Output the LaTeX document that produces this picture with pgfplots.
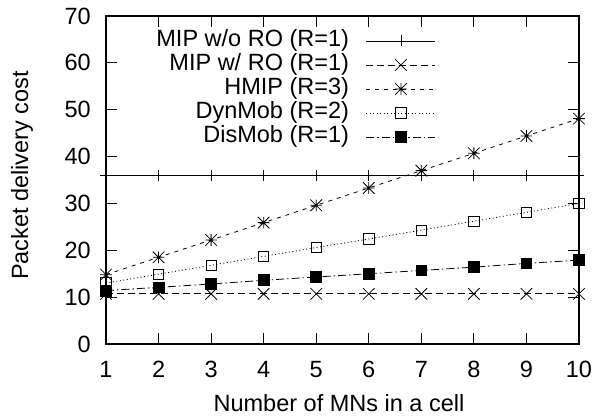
\documentclass[border=0pt]{standalone}
\usepackage{pgfplots}
\pgfplotsset{compat=1.18}
\usepackage{fontspec}
\setmainfont{Liberation Sans}
\pgfdeclareplotmark{starx}{%
 \pgfpathmoveto{\pgfqpoint{-\pgfplotmarksize}{0pt}}\pgfpathlineto{\pgfqpoint{\pgfplotmarksize}{0pt}}%
 \pgfpathmoveto{\pgfqpoint{0pt}{-\pgfplotmarksize}}\pgfpathlineto{\pgfqpoint{0pt}{\pgfplotmarksize}}%
 \pgfpathmoveto{\pgfqpoint{-\pgfplotmarksize}{-\pgfplotmarksize}}\pgfpathlineto{\pgfqpoint{\pgfplotmarksize}{\pgfplotmarksize}}%
 \pgfpathmoveto{\pgfqpoint{-\pgfplotmarksize}{\pgfplotmarksize}}\pgfpathlineto{\pgfqpoint{\pgfplotmarksize}{-\pgfplotmarksize}}%
 \pgfusepathqstroke}
\begin{document}
\begin{tikzpicture}[font=\fontsize{23.5bp}{28bp}\selectfont]
\useasboundingbox (-106bp,-74bp) rectangle (489bp,344bp);
\begin{axis}[
  at={(0,0)}, anchor=south west,
  scale only axis, width=473bp, height=328bp,
  xmin=1, xmax=10, ymin=0, ymax=70,
  xtick={1,2,...,10}, ytick={0,10,...,70},
  /pgf/number format/assume math mode=true,
  tick align=inside, major tick length=10.7bp,
  every tick/.style={black, line width=0.9bp},
  axis line style={line width=1.2bp},
  xticklabel style={anchor=north, inner sep=0pt, yshift=-17bp},
  yticklabel style={anchor=east, inner sep=0pt, xshift=-15bp},
  xlabel={Number of MNs in a cell},
  ylabel={Packet delivery cost},
  xlabel style={at={(axis description cs:0.4926,-0.2073)}, anchor=base},
  ylabel style={at={(axis description cs:-0.1776,0.5137)}, anchor=center, rotate=0},
  clip=false,
  legend plot pos=right,
  legend cell align=right,
  legend style={draw=none, fill=none, inner sep=0pt, at={(rel axis cs:0.6977,0.958)}, anchor=north east,
    nodes={inner sep=0pt, text height=17bp, text depth=5bp}, row sep=2bp, column sep=17bp},
  legend image code/.code={\draw[mark repeat=2,mark phase=2,#1] plot coordinates {(0bp,0bp)(34.5bp,0bp)(69bp,0bp)};},
  every axis plot/.append style={line width=0.8bp, black},
]
\addplot[solid, mark=+, mark size=5.5bp, mark options={solid}] coordinates {
(1,36.0)(2,36.0)(3,36.0)(4,36.0)(5,36.0)(6,36.0)(7,36.0)(8,36.0)(9,36.0)(10,36.0)};
\addlegendentry{MIP w/o RO (R=1)}
\addplot[dash pattern=on 7bp off 4bp, mark=x, mark size=8.2bp, mark options={solid}] coordinates {
(1,10.7)(2,10.7)(3,10.7)(4,10.7)(5,10.7)(6,10.7)(7,10.7)(8,10.7)(9,10.7)(10,10.7)};
\addlegendentry{MIP w/ RO (R=1)}
\addplot[dash pattern=on 4bp off 5bp, mark=starx, mark size=5.8bp, mark options={solid}] coordinates {
(1,14.8)(2,18.5)(3,22.2)(4,25.9)(5,29.6)(6,33.3)(7,37.0)(8,40.7)(9,44.4)(10,48.1)};
\addlegendentry{HMIP (R=3)}
\addplot[dash pattern=on 1bp off 2.5bp, mark=square, mark size=5.2bp, mark options={solid}] coordinates {
(1,13.0)(2,14.9)(3,16.8)(4,18.7)(5,20.6)(6,22.4)(7,24.3)(8,26.2)(9,28.1)(10,30.0)};
\addlegendentry{DynMob (R=2)}
\addplot[dash pattern=on 8bp off 3bp on 1.5bp off 3bp, mark=square*, mark size=5.4bp, mark options={solid, fill=black}] coordinates {
(1,11.4)(2,12.1)(3,12.8)(4,13.6)(5,14.3)(6,15.0)(7,15.7)(8,16.4)(9,17.2)(10,17.9)};
\addlegendentry{DisMob (R=1)}
\end{axis}
\end{tikzpicture}
\end{document}
